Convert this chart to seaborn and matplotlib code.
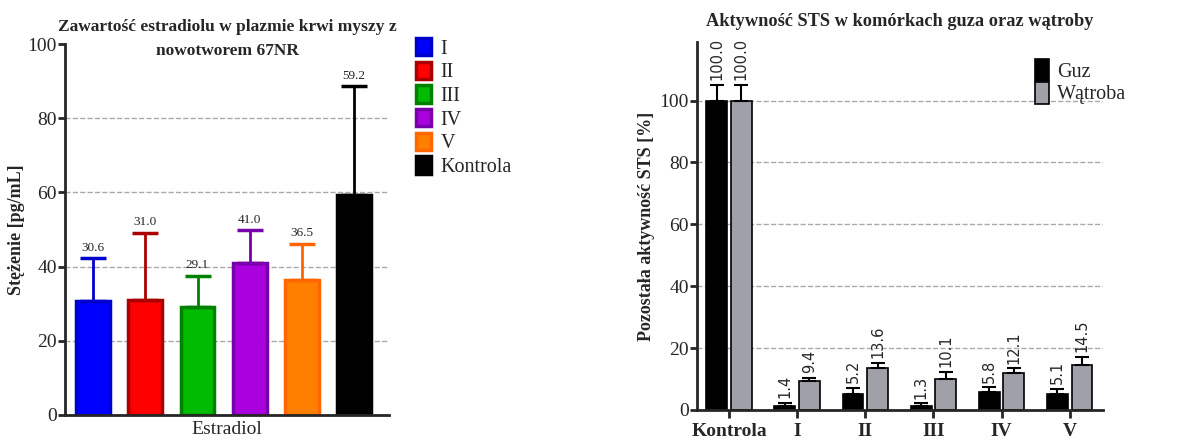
import pandas as pd
import matplotlib.pyplot as plt
import seaborn as sns

# estradiol values (left chart)
grupy = ['I', 'II', 'III', 'IV', 'V', 'Kontrola']
estradiol = [30.6, 31.0, 29.1, 41.0, 36.5, 59.2]
estradiol_sd = [11.7, 18.2, 8.5, 8.8, 9.7, 29.4]
kolory = ['#0000FF', '#FF0000', '#00BB00', '#AA00DD', '#FF8000', '#000000']
krawedzie = ['#0000CC', '#AA0000', '#008000', '#7700AA', '#FF6600', '#000000']

# STS activity (right chart)
grupy_sts = ['Kontrola', 'I', 'II', 'III', 'IV', 'V']
guz = [100.0, 1.4, 5.2, 1.3, 5.8, 5.1]
guz_sd = [5.0, 1.0, 2.0, 0.9, 1.5, 1.8]
watroba = [100.0, 9.4, 13.6, 10.1, 12.1, 14.5]
watroba_sd = [5.0, 0.9, 1.7, 2.3, 1.4, 2.7]

sns.set_style('white')
plt.rcParams['font.family'] = ['Liberation Serif', 'DejaVu Serif']

fig = plt.figure(figsize=(11.78, 4.41), dpi=100)
ax1 = fig.add_axes([0.0552, 0.059, 0.275, 0.841])
ax2 = fig.add_axes([0.5917, 0.0703, 0.3447, 0.835])

# ---- left chart
sns.barplot(x=grupy, y=estradiol, hue=grupy, palette=kolory, width=0.65,
            saturation=1, legend=False, ax=ax1)
for i, bar in enumerate(ax1.patches):
    bar.set_edgecolor(krawedzie[i])
    bar.set_linewidth(2.5)
    xc = bar.get_x() + bar.get_width() / 2
    ax1.errorbar(xc, estradiol[i], yerr=[[0], [estradiol_sd[i]]], color=krawedzie[i],
                 lw=2, capsize=9.5, capthick=2.5, zorder=1)
    ax1.text(xc, estradiol[i] + estradiol_sd[i] + 1.2, f'{estradiol[i]:.1f}',
             ha='center', va='bottom', fontsize=9.5)
ax1.set_ylim(0, 100)
ax1.set_xlim(-0.54, 5.67)
ax1.set_yticks([0, 20, 40, 60, 80, 100])
ax1.set_xticks([])
ax1.set_xlabel('Estradiol', fontsize=14)
ax1.set_ylabel('Stężenie [pg/mL]', fontsize=13, fontweight='bold', labelpad=2)
ax1.set_title('Zawartość estradiolu w plazmie krwi myszy z\nnowotworem 67NR',
              fontsize=12.5, fontweight='bold', pad=-8, linespacing=1.65)
ax1.tick_params(axis='y', labelsize=14, length=5, width=2, direction='out', left=True, pad=1)
for y in [20, 40, 60, 80]:
    ax1.axhline(y, color='#AAAAAA', ls='--', lw=1, zorder=0)
ax1.legend(handles=ax1.patches, labels=grupy, loc='upper left',
           bbox_to_anchor=(1.06, 1.038), frameon=False, fontsize=14.5,
           handlelength=0.7, handleheight=0.95, labelspacing=0.15,
           handletextpad=0.5, borderaxespad=0)

# ---- right chart
df = pd.DataFrame({
    'grupa': grupy_sts * 2,
    'wartosc': guz + watroba,
    'tkanka': ['Guz'] * 6 + ['Wątroba'] * 6,
})
sns.barplot(data=df, x='grupa', y='wartosc', hue='tkanka',
            palette=['#000000', '#A0A0A8'], width=0.72, gap=0.15, saturation=1,
            edgecolor='black', linewidth=1.2, ax=ax2)
for cont, vals, sds in zip(ax2.containers, [guz, watroba], [guz_sd, watroba_sd]):
    for bar, v, s in zip(cont, vals, sds):
        xc = bar.get_x() + bar.get_width() / 2
        ax2.errorbar(xc, v, yerr=[[0], [s]], color='black', lw=1.5,
                     capsize=5, capthick=1.5, zorder=1)
        ax2.text(xc, v + s + 1.5, f'{v:.1f}', ha='center', va='bottom',
                 rotation=90, fontsize=10.5, family=['DejaVu Sans'])
ax2.set_ylim(0, 119)
ax2.set_xlim(-0.47, 5.49)
ax2.set_yticks([0, 20, 40, 60, 80, 100])
ax2.set_xlabel('')
ax2.set_ylabel('Pozostała aktywność STS [%]', fontsize=13, fontweight='bold', labelpad=3)
ax2.set_title('Aktywność STS w komórkach guza oraz wątroby',
              fontsize=13.2, fontweight='bold', pad=11)
ax2.tick_params(axis='y', labelsize=14, length=5, width=2, direction='out', left=True, pad=1)
ax2.tick_params(axis='x', labelsize=14, length=6, width=2, direction='out', bottom=True)
for lab in ax2.get_xticklabels():
    lab.set_fontweight('bold')
for y in [20, 40, 60, 80, 100]:
    ax2.axhline(y, color='#AAAAAA', ls='--', lw=1, zorder=0)
ax2.legend(loc='upper left', bbox_to_anchor=(0.812, 0.975), frameon=False,
           fontsize=14.5, handlelength=0.7, handleheight=1.3, labelspacing=0.0,
           handletextpad=0.4, borderaxespad=0)

for ax in [ax1, ax2]:
    sns.despine(ax=ax)
    ax.spines['left'].set_linewidth(2)
    ax.spines['bottom'].set_linewidth(2)

fig.savefig('out.png', dpi=100)
